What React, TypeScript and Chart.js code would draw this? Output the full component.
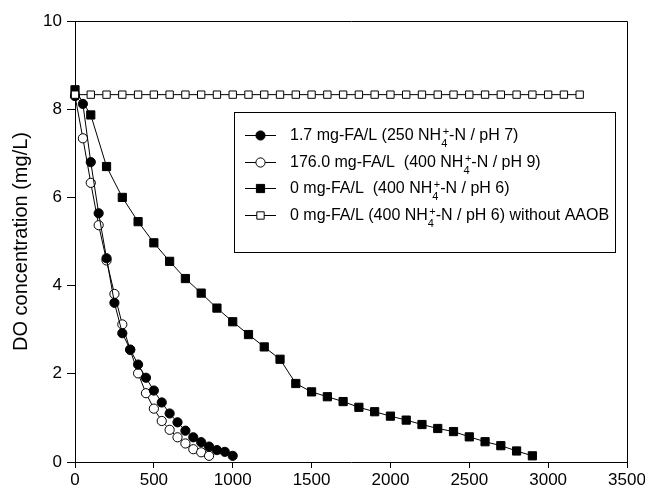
import React, { useEffect, useRef } from 'react';
import { Chart, registerables } from 'chart.js';

Chart.register(...registerables);

// ---- Data (time in min, DO in mg/L) ----
const fa17Time = [0, 50, 100, 150, 200, 250, 300, 350, 400, 450, 500, 550, 600, 650, 700, 750, 800, 850, 900, 950, 1000];
const fa17DO = [8.3, 8.12, 6.8, 5.64, 4.62, 3.61, 2.92, 2.55, 2.21, 1.91, 1.62, 1.35, 1.1, 0.9, 0.71, 0.56, 0.45, 0.35, 0.27, 0.23, 0.14];

const fa176Time = [0, 50, 100, 150, 200, 250, 300, 350, 400, 450, 500, 550, 600, 650, 700, 750, 800, 850];
const fa176DO = [8.3, 7.34, 6.33, 5.37, 4.57, 3.81, 3.12, 2.54, 2.01, 1.56, 1.21, 0.93, 0.73, 0.56, 0.42, 0.29, 0.22, 0.14];

const ph6Time = [0, 100, 200, 300, 400, 500, 600, 700, 800, 900, 1000, 1100, 1200, 1300, 1400, 1500, 1600, 1700, 1800, 1900, 2000, 2100, 2200, 2300, 2400, 2500, 2600, 2700, 2800, 2900];
const ph6DO = [8.44, 7.87, 6.7, 6.0, 5.45, 4.97, 4.55, 4.16, 3.83, 3.49, 3.18, 2.89, 2.61, 2.33, 1.78, 1.59, 1.48, 1.37, 1.24, 1.14, 1.04, 0.95, 0.85, 0.76, 0.69, 0.57, 0.46, 0.37, 0.25, 0.14];

const noAaobTime = [0, 100, 200, 300, 400, 500, 600, 700, 800, 900, 1000, 1100, 1200, 1300, 1400, 1500, 1600, 1700, 1800, 1900, 2000, 2100, 2200, 2300, 2400, 2500, 2600, 2700, 2800, 2900, 3000, 3100, 3200];
const noAaobDO = [8.33, 8.33, 8.33, 8.33, 8.33, 8.33, 8.33, 8.33, 8.33, 8.33, 8.33, 8.33, 8.33, 8.33, 8.33, 8.33, 8.33, 8.33, 8.33, 8.33, 8.33, 8.33, 8.33, 8.33, 8.33, 8.33, 8.33, 8.33, 8.33, 8.33, 8.33, 8.33, 8.33];

// "_x" = subscript char, "^x" = superscript char
const legendLabels = [
  '1.7 mg-FA/L (250 NH_4^+-N / pH 7)',
  '176.0 mg-FA/L  (400 NH_4^+-N / pH 9)',
  '0 mg-FA/L  (400 NH_4^+-N / pH 6)',
  '0 mg-FA/L (400 NH_4^+-N / pH 6) without AAOB',
];

const xTickStep = 500;
const yTickStep = 2;
const yTitle = 'DO concentration (mg/L)';

const FONT = "'Liberation Sans', Arial, Helvetica, sans-serif";

function drawRich(ctx: CanvasRenderingContext2D, text: string, x: number, y: number, size: number) {
  let cx = x;
  let i = 0;
  let lastSub: { x: number; w: number } | null = null;
  const small = Math.round(size * 0.66);
  while (i < text.length) {
    const c = text[i];
    if ((c === '_' || c === '^') && i + 1 < text.length) {
      const ch = text[i + 1];
      ctx.font = `${small}px ${FONT}`;
      const w = ctx.measureText(ch).width;
      if (c === '_') {
        ctx.fillText(ch, cx, y + size * 0.5);
        lastSub = { x: cx, w };
        cx += w;
      } else {
        let sx = cx;
        if (lastSub) sx = lastSub.x + 1.5;
        ctx.fillText(ch, sx, y - size * 0.28);
        cx = Math.max(cx, sx + w);
        lastSub = null;
      }
      i += 2;
      continue;
    }
    let j = i;
    while (j < text.length && text[j] !== '_' && text[j] !== '^') j++;
    const run = text.slice(i, j);
    ctx.font = `${size}px ${FONT}`;
    ctx.fillText(run, cx, y);
    cx += ctx.measureText(run).width;
    lastSub = null;
    i = j;
  }
}

function drawMarker(ctx: CanvasRenderingContext2D, style: string, x: number, y: number, r: number, fill: string) {
  ctx.beginPath();
  if (style === 'circle') {
    ctx.arc(x, y, r, 0, Math.PI * 2);
  } else {
    const s = Math.SQRT1_2 * r;
    ctx.rect(x - s, y - s, 2 * s, 2 * s);
  }
  ctx.fillStyle = fill;
  ctx.fill();
  ctx.lineWidth = 1;
  ctx.strokeStyle = '#000';
  ctx.stroke();
}

const framePlugin = {
  id: 'frame',
  beforeDatasetsDraw(chart: any) {
    const { ctx, chartArea } = chart;
    const t = Math.round(chartArea.top) + 0.5;
    const r = Math.round(chartArea.right) + 0.5;
    const l = Math.round(chartArea.left) + 0.5;
    const b = Math.round(chartArea.bottom) + 0.5;
    ctx.save();
    ctx.strokeStyle = '#000';
    ctx.lineWidth = 1;
    ctx.beginPath();
    ctx.moveTo(l, t);
    ctx.lineTo(r, t);
    ctx.lineTo(r, b);
    ctx.stroke();
    ctx.restore();
  },
};

const legendPlugin = {
  id: 'richLegend',
  afterDatasetsDraw(chart: any) {
    const { ctx } = chart;
    const bx0 = 234, by0 = 112, bx1 = 615, by1 = 252;
    const rows = [135, 162, 188, 215];
    ctx.save();
    ctx.fillStyle = '#fff';
    ctx.fillRect(bx0, by0, bx1 - bx0, by1 - by0);
    ctx.strokeStyle = '#000';
    ctx.lineWidth = 1;
    ctx.strokeRect(bx0 + 0.5, by0 + 0.5, bx1 - bx0, by1 - by0);
    chart.data.datasets.forEach((ds: any, k: number) => {
      const y = rows[k];
      ctx.beginPath();
      ctx.moveTo(245, y + 0.5);
      ctx.lineTo(276, y + 0.5);
      ctx.strokeStyle = '#000';
      ctx.lineWidth = 1;
      ctx.stroke();
      drawMarker(ctx, ds.pointStyle, 260.5, y + 0.5, ds.pointRadius, ds.pointBackgroundColor);
      ctx.fillStyle = '#000';
      ctx.textBaseline = 'middle';
      ctx.textAlign = 'left';
      drawRich(ctx, ds.label, 290, y + 1, 16);
    });
    ctx.restore();
  },
};

export default function App() {
  const ref = useRef<HTMLCanvasElement>(null);
  useEffect(() => {
    const toXY = (xs: number[], ys: number[]) => xs.map((x, i) => ({ x, y: ys[i] }));
    const base = { borderColor: '#000', borderWidth: 1, pointBorderColor: '#000', pointBorderWidth: 1, clip: false as any, tension: 0, fill: false };
    const chart = new Chart(ref.current as HTMLCanvasElement, {
      type: 'line',
      data: {
        datasets: [
          { ...base, label: legendLabels[0], data: toXY(fa17Time, fa17DO), pointStyle: 'circle', pointRadius: 4.6, pointBackgroundColor: '#000', order: 1 },
          { ...base, label: legendLabels[1], data: toXY(fa176Time, fa176DO), pointStyle: 'circle', pointRadius: 4.6, pointBackgroundColor: '#fff', order: 2 },
          { ...base, label: legendLabels[2], data: toXY(ph6Time, ph6DO), pointStyle: 'rect', pointRadius: 5.8, pointBackgroundColor: '#000', order: 3 },
          { ...base, label: legendLabels[3], data: toXY(noAaobTime, noAaobDO), pointStyle: 'rect', pointRadius: 5.2, pointBackgroundColor: '#fff', order: 0 },
        ] as any,
      },
      options: {
        responsive: false,
        animation: false,
        events: [],
        layout: { padding: { left: 0, top: 21, right: 18, bottom: 0 } },
        plugins: { legend: { display: false }, tooltip: { enabled: false } },
        scales: {
          x: {
            type: 'linear',
            min: 0,
            max: 3500,
            ticks: { stepSize: xTickStep, color: '#000', font: { family: FONT, size: 17 }, padding: 2, maxRotation: 0, callback: (v: any) => String(v) },
            grid: { drawOnChartArea: false, drawTicks: true, tickLength: 6, color: '#000', lineWidth: 1 },
            border: { display: true, color: '#000', width: 1 },
            afterFit: (s: any) => { s.height = 33; s.paddingLeft = 0; s.paddingRight = 0; },
          },
          y: {
            type: 'linear',
            min: 0,
            max: 10,
            ticks: { stepSize: yTickStep, color: '#000', font: { family: FONT, size: 17 }, padding: 5, callback: (v: any) => String(v) },
            grid: { drawOnChartArea: false, drawTicks: true, tickLength: 8, color: '#000', lineWidth: 1 },
            border: { display: true, color: '#000', width: 1 },
            title: { display: true, text: yTitle, color: '#000', font: { family: FONT, size: 20 }, padding: { top: 9, bottom: 0 } },
            afterFit: (s: any) => { s.width = 75; s.paddingTop = 0; s.paddingBottom = 0; },
          },
        },
      } as any,
      plugins: [framePlugin, legendPlugin],
    });
    return () => chart.destroy();
  }, []);
  return (
    <div style={{ position: 'absolute', left: 0, top: 0, width: 645, height: 495, background: '#fff' }}>
      <canvas ref={ref} width={645} height={495} style={{ display: 'block' }} />
    </div>
  );
}
